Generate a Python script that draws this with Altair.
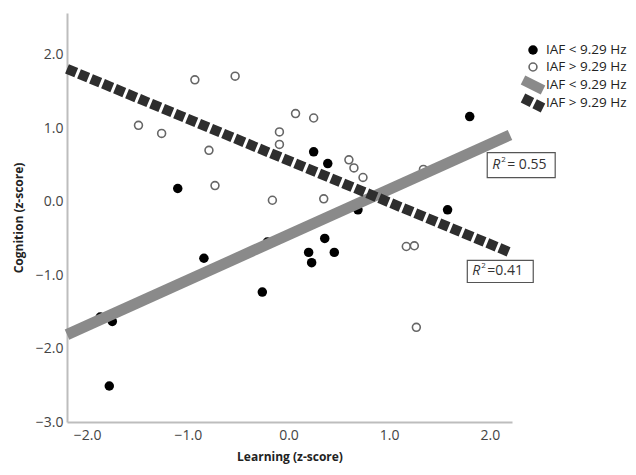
import altair as alt
import pandas as pd

# ---- data ----
low_x = [-1.87, -1.75, -1.78, -0.84, -0.26, -0.21, -1.10, 0.36, 0.20, 0.23, 0.455, 0.25, 0.39, 0.69, 1.80, 1.58]
low_y = [-1.57, -1.63, -2.51, -0.77, -1.23, -0.55, 0.18, -0.50, -0.69, -0.83, -0.69, 0.68, 0.52, -0.11, 1.16, -0.11]

high_x = [-1.49, -1.26, -0.93, -0.53, -0.79, -0.73, -0.16, -0.09, -0.09, 0.07, 0.25, 0.35, 0.60, 0.65, 0.74, 1.17, 1.25, 1.27, 1.34]
high_y = [1.04, 0.93, 1.66, 1.71, 0.70, 0.22, 0.02, 0.95, 0.78, 1.20, 1.14, 0.04, 0.57, 0.46, 0.33, -0.61, -0.60, -1.71, 0.44]

fit_x = [-2.2, 2.2]
low_fit_y = [-1.81, 0.91]
high_fit_y = [1.81, -0.69]

legend_labels = ["IAF < 9.29 Hz", "IAF > 9.29 Hz", "IAF < 9.29 Hz", "IAF > 9.29 Hz"]

r2_values = ["= 0.55", "=0.41"]
r2_box_x = [1.974, 1.776]
r2_box_x2 = [2.649, 2.431]
r2_box_y = [0.668, -0.80]
r2_box_y2 = [0.329, -1.10]

x_ticks = [-2, -1, 0, 1, 2]
y_ticks = [-3, -2, -1, 0, 1, 2]

FONT = "Open Sans"

low_df = pd.DataFrame({"x": low_x, "y": low_y})
high_df = pd.DataFrame({"x": high_x, "y": high_y})
low_fit = pd.DataFrame({"x": fit_x, "y": low_fit_y})
high_fit = pd.DataFrame({"x": fit_x, "y": high_fit_y})
ann = pd.DataFrame({"x": r2_box_x, "x2": r2_box_x2, "y": r2_box_y, "y2": r2_box_y2, "val": r2_values})

xs = alt.Scale(domain=[-2.2, 2.22], nice=False, zero=False)
ys = alt.Scale(domain=[-3, 2.57], nice=False, zero=False)

x_enc = alt.X("x:Q", scale=xs, title="Learning (z-score)",
              axis=alt.Axis(values=x_ticks, format=".1f", ticks=False, grid=False,
                            labelPadding=6, titlePadding=9))
y_enc = alt.Y("y:Q", scale=ys, title="Cognition (z-score)",
              axis=alt.Axis(values=y_ticks, format=".1f", ticks=False, grid=False,
                            labelPadding=4, titlePadding=10))

filled = alt.Chart(low_df).mark_point(filled=True, shape="circle", size=90, color="black", opacity=1).encode(x=x_enc, y=y_enc)
hollow = alt.Chart(high_df).mark_point(filled=False, shape="circle", size=62, color="#666666",
                                       strokeWidth=1.6, opacity=1).encode(x=x_enc, y=y_enc)

gray_line = alt.Chart(low_fit).mark_line(color="#8a8a8a", strokeWidth=11, strokeCap="butt").encode(x=x_enc, y=y_enc)
dash_line = alt.Chart(high_fit).mark_line(color="#2e2e2e", strokeWidth=10, strokeDash=[10, 3],
                                          strokeCap="butt").encode(x=x_enc, y=y_enc)

boxes = alt.Chart(ann).mark_rect(fill="white", stroke="#555555", strokeWidth=1.2).encode(
    x=alt.X("x:Q", scale=xs), x2="x2:Q", y=alt.Y("y:Q", scale=ys), y2="y2:Q")
r_text = alt.Chart(ann).mark_text(align="left", baseline="middle", font=FONT, fontSize=14,
                                  fontStyle="italic", dx=5, color="#333333").encode(
    x=alt.X("x:Q", scale=xs), y=alt.Y("ymid:Q", scale=ys), text=alt.value("R")
).transform_calculate(ymid="(datum.y + datum.y2) / 2")
sq_text = alt.Chart(ann).mark_text(align="left", baseline="middle", font=FONT, fontSize=8,
                                   dx=14, dy=-5, color="#333333").encode(
    x=alt.X("x:Q", scale=xs), y=alt.Y("ymid:Q", scale=ys), text=alt.value("2")
).transform_calculate(ymid="(datum.y + datum.y2) / 2")
val_text = alt.Chart(ann).mark_text(align="left", baseline="middle", font=FONT, fontSize=14,
                                    dx=20, color="#333333").encode(
    x=alt.X("x:Q", scale=xs), y=alt.Y("ymid:Q", scale=ys), text="val:N"
).transform_calculate(ymid="(datum.y + datum.y2) / 2")

# ---- manual legend (pixel positions relative to plot area) ----
leg_sym_x = 466
leg_txt_x = 479
leg_rows = [37, 54, 72, 90]
one = pd.DataFrame({"k": [0]})

legend_layers = []
legend_layers.append(alt.Chart(one).mark_point(filled=True, shape="circle", size=90, color="black", opacity=1)
                     .encode(x=alt.value(leg_sym_x), y=alt.value(leg_rows[0])))
legend_layers.append(alt.Chart(one).mark_point(filled=False, shape="circle", size=62, color="#666666",
                                               strokeWidth=1.6, opacity=1)
                     .encode(x=alt.value(leg_sym_x), y=alt.value(leg_rows[1])))
legend_layers.append(alt.Chart(one).mark_rule(color="#8a8a8a", strokeWidth=10, strokeCap="butt")
                     .encode(x=alt.value(leg_sym_x - 10), x2=alt.value(leg_sym_x + 10),
                             y=alt.value(leg_rows[2] - 5), y2=alt.value(leg_rows[2] + 5)))
legend_layers.append(alt.Chart(one).mark_rule(color="#2e2e2e", strokeWidth=10, strokeDash=[10, 3], strokeCap="butt")
                     .encode(x=alt.value(leg_sym_x - 10), x2=alt.value(leg_sym_x + 10),
                             y=alt.value(leg_rows[3] - 5), y2=alt.value(leg_rows[3] + 5)))
for lab, ry in zip(legend_labels, leg_rows):
    legend_layers.append(
        alt.Chart(pd.DataFrame({"t": [lab]})).mark_text(align="left", baseline="middle", font=FONT,
                                                        fontSize=13.5, color="#222222")
        .encode(x=alt.value(leg_txt_x), y=alt.value(ry), text="t:N"))

chart = alt.layer(
    filled, hollow, gray_line, dash_line, boxes, r_text, sq_text, val_text, *legend_layers
).properties(
    width=445, height=409,
    autosize=alt.AutoSizeParams(type="none"),
    padding={"left": 59, "top": 5, "right": 116, "bottom": 45},
).configure_view(stroke=None).configure_axis(
    domainColor="#bdbdbd", domainWidth=2,
    labelFont=FONT, labelFontSize=14, labelColor="#444444",
    titleFont=FONT, titleFontSize=12, titleFontWeight="bold", titleColor="#222222",
)

chart.save("out.html", embed_options={"renderer": "svg", "actions": False})
